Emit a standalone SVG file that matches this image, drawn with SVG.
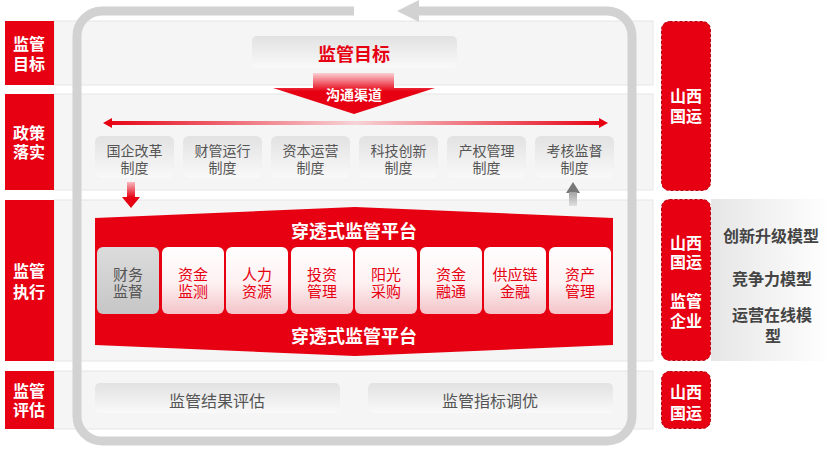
<svg xmlns="http://www.w3.org/2000/svg" width="831" height="449" viewBox="0 0 831 449">
<style>
text{font-family:"Noto Sans CJK SC","Liberation Sans",sans-serif;text-anchor:middle;dominant-baseline:central}
.lab{fill:#fff;font-size:16px;font-weight:700}
.pol{fill:#555;font-size:14px}
.mod{fill:#e60012;font-size:15px}
.rt{fill:#444;font-size:16px;font-weight:700}
.ev{fill:#555;font-size:16px}
.panel{fill:#f5f5f5;stroke:#e6e6e6;stroke-width:1}
.redlab{fill:#e60012}
.rbox{fill:#e60012;stroke:#b8000e;stroke-width:1;stroke-dasharray:3 2}
</style>
<defs>
<linearGradient id="gbox" x1="0" y1="0" x2="0" y2="1"><stop offset="0" stop-color="#e2e2e2"/><stop offset="1" stop-color="#f9f9f9"/></linearGradient>
<linearGradient id="gpink" x1="0" y1="0" x2="0" y2="1"><stop offset="0" stop-color="#ffffff"/><stop offset="0.55" stop-color="#fdf0f1"/><stop offset="1" stop-color="#f3c3c8"/></linearGradient>
<linearGradient id="ggray" x1="0" y1="0" x2="0" y2="1"><stop offset="0" stop-color="#dcdcdc"/><stop offset="1" stop-color="#c6c6c6"/></linearGradient>
<linearGradient id="gfun" x1="0" y1="73" x2="0" y2="114" gradientUnits="userSpaceOnUse"><stop offset="0" stop-color="#fbd0d4"/><stop offset="0.45" stop-color="#e60012"/><stop offset="1" stop-color="#e60012"/></linearGradient>
<linearGradient id="ghor" x1="103" y1="0" x2="608" y2="0" gradientUnits="userSpaceOnUse"><stop offset="0" stop-color="#e60012"/><stop offset="0.5" stop-color="#f6d3d6"/><stop offset="1" stop-color="#e60012"/></linearGradient>
<linearGradient id="gdown" x1="0" y1="182" x2="0" y2="208" gradientUnits="userSpaceOnUse"><stop offset="0" stop-color="#f7b9be"/><stop offset="0.6" stop-color="#e60012"/></linearGradient>
<linearGradient id="gup" x1="0" y1="182" x2="0" y2="206" gradientUnits="userSpaceOnUse"><stop offset="0" stop-color="#777"/><stop offset="1" stop-color="#e0e0e0"/></linearGradient>
<linearGradient id="gright" x1="0" y1="0" x2="1" y2="0"><stop offset="0" stop-color="#e6e6e6"/><stop offset="1" stop-color="#ffffff"/></linearGradient>
</defs>

<g id="rows">
<rect class="panel" x="54" y="21" width="599" height="64"/>
<rect class="panel" x="54" y="94" width="599" height="96"/>
<rect class="panel" x="54" y="200" width="599" height="161"/>
<rect class="panel" x="54" y="371" width="599" height="58"/>
</g>

<g id="loop">
<path d="M354 11 H102 A25 25 0 0 0 77 36 V416 A25 25 0 0 0 102 441 H607 A25 25 0 0 0 632 416 V36 A25 25 0 0 0 607 11 H416" fill="none" stroke="#d2d2d2" stroke-width="9"/>
<polygon points="397,11 419,0 419,22" fill="#d2d2d2"/>
</g>

<g id="label-goal"><rect class="redlab" x="5" y="21" width="49" height="64"/><text class="lab" x="29" y="43">监管</text><text class="lab" x="29" y="63">目标</text></g>
<g id="label-policy"><rect class="redlab" x="5" y="94" width="49" height="96"/><text class="lab" x="29" y="132">政策</text><text class="lab" x="29" y="151">落实</text></g>
<g id="label-exec"><rect class="redlab" x="5" y="200" width="49" height="161"/><text class="lab" x="29" y="270">监管</text><text class="lab" x="29" y="291">执行</text></g>
<g id="label-eval"><rect class="redlab" x="5" y="371" width="49" height="58"/><text class="lab" x="29" y="390">监管</text><text class="lab" x="29" y="409">评估</text></g>

<g id="goal"><rect x="252" y="36" width="205" height="32" rx="5" fill="url(#gbox)"/><text x="354" y="53" fill="#e60012" font-size="18" font-weight="700">监管目标</text></g>

<g id="channel"><polygon points="313,73 394,73 394,88 435,88 354,114 273,88 313,88" fill="url(#gfun)"/><text x="354" y="94" fill="#fff" font-size="14" font-weight="700">沟通渠道</text></g>

<g id="connectors">
<line x1="110" y1="123" x2="601" y2="123" stroke="url(#ghor)" stroke-width="4"/>
<polygon points="103,123 112,118 112,128" fill="#e60012"/>
<polygon points="608,123 599,118 599,128" fill="#e60012"/>
<rect x="127" y="182" width="8" height="16" fill="url(#gdown)"/>
<polygon points="122,197 140,197 131,208" fill="#e60012"/>
<polygon points="573,182 566,193 580,193" fill="#777"/>
<rect x="569" y="192" width="8" height="14" fill="url(#gup)"/>
</g>

<g id="policy-1"><rect x="95" y="136" width="79" height="42" rx="6" fill="url(#gbox)"/><text class="pol" x="134.5" y="150">国企改革</text><text class="pol" x="134.5" y="167">制度</text></g>
<g id="policy-2"><rect x="183" y="136" width="79" height="42" rx="6" fill="url(#gbox)"/><text class="pol" x="222.5" y="150">财管运行</text><text class="pol" x="222.5" y="167">制度</text></g>
<g id="policy-3"><rect x="271" y="136" width="79" height="42" rx="6" fill="url(#gbox)"/><text class="pol" x="310.5" y="150">资本运营</text><text class="pol" x="310.5" y="167">制度</text></g>
<g id="policy-4"><rect x="359" y="136" width="79" height="42" rx="6" fill="url(#gbox)"/><text class="pol" x="398.5" y="150">科技创新</text><text class="pol" x="398.5" y="167">制度</text></g>
<g id="policy-5"><rect x="447" y="136" width="79" height="42" rx="6" fill="url(#gbox)"/><text class="pol" x="486.5" y="150">产权管理</text><text class="pol" x="486.5" y="167">制度</text></g>
<g id="policy-6"><rect x="535" y="136" width="79" height="42" rx="6" fill="url(#gbox)"/><text class="pol" x="574.5" y="150">考核监督</text><text class="pol" x="574.5" y="167">制度</text></g>

<g id="platform">
<polygon points="95,218 355,207 613,218 613,345 355,356 95,345" fill="#e60012"/>
<text x="354" y="230" fill="#fff" font-size="18" font-weight="700">穿透式监管平台</text>
<text x="354" y="335" fill="#fff" font-size="18" font-weight="700">穿透式监管平台</text>
</g>

<g id="m1"><rect x="97" y="247" width="62" height="67" rx="6" fill="url(#ggray)"/><text x="128" y="273" fill="#555" font-size="15">财务</text><text x="128" y="290" fill="#555" font-size="15">监督</text></g>
<g id="m2"><rect x="162" y="247" width="62" height="67" rx="6" fill="url(#gpink)"/><text class="mod" x="193" y="273">资金</text><text class="mod" x="193" y="290">监测</text></g>
<g id="m3"><rect x="226" y="247" width="62" height="67" rx="6" fill="url(#gpink)"/><text class="mod" x="257" y="273">人力</text><text class="mod" x="257" y="290">资源</text></g>
<g id="m4"><rect x="291" y="247" width="62" height="67" rx="6" fill="url(#gpink)"/><text class="mod" x="322" y="273">投资</text><text class="mod" x="322" y="290">管理</text></g>
<g id="m5"><rect x="355" y="247" width="62" height="67" rx="6" fill="url(#gpink)"/><text class="mod" x="386" y="273">阳光</text><text class="mod" x="386" y="290">采购</text></g>
<g id="m6"><rect x="420" y="247" width="62" height="67" rx="6" fill="url(#gpink)"/><text class="mod" x="451" y="273">资金</text><text class="mod" x="451" y="290">融通</text></g>
<g id="m7"><rect x="484" y="247" width="62" height="67" rx="6" fill="url(#gpink)"/><text class="mod" x="515" y="273">供应链</text><text class="mod" x="515" y="290">金融</text></g>
<g id="m8"><rect x="549" y="247" width="62" height="67" rx="6" fill="url(#gpink)"/><text class="mod" x="580" y="273">资产</text><text class="mod" x="580" y="290">管理</text></g>

<g id="eval-1"><rect x="95" y="383" width="245" height="30" rx="5" fill="url(#gbox)"/><text class="ev" x="217" y="400">监管结果评估</text></g>
<g id="eval-2"><rect x="368" y="383" width="245" height="30" rx="5" fill="url(#gbox)"/><text class="ev" x="490" y="400">监管指标调优</text></g>

<g id="right-1"><rect class="rbox" x="661.5" y="21.5" width="49" height="169" rx="8"/><text class="lab" x="686" y="95">山西</text><text class="lab" x="686" y="115">国运</text></g>
<g id="right-2"><rect x="711" y="199" width="120" height="162" fill="url(#gright)"/><rect class="rbox" x="661.5" y="199.5" width="49" height="161" rx="8"/><text class="lab" x="686" y="242">山西</text><text class="lab" x="686" y="261">国运</text><text class="lab" x="686" y="300">监管</text><text class="lab" x="686" y="320">企业</text>
<text class="rt" x="771" y="235">创新升级模型</text><text class="rt" x="772" y="278">竞争力模型</text><text class="rt" x="772" y="314">运营在线模</text><text class="rt" x="773" y="335">型</text></g>
<g id="right-3"><rect class="rbox" x="661.5" y="371.5" width="49" height="57" rx="8"/><text class="lab" x="686" y="391">山西</text><text class="lab" x="686" y="412">国运</text></g>
</svg>
